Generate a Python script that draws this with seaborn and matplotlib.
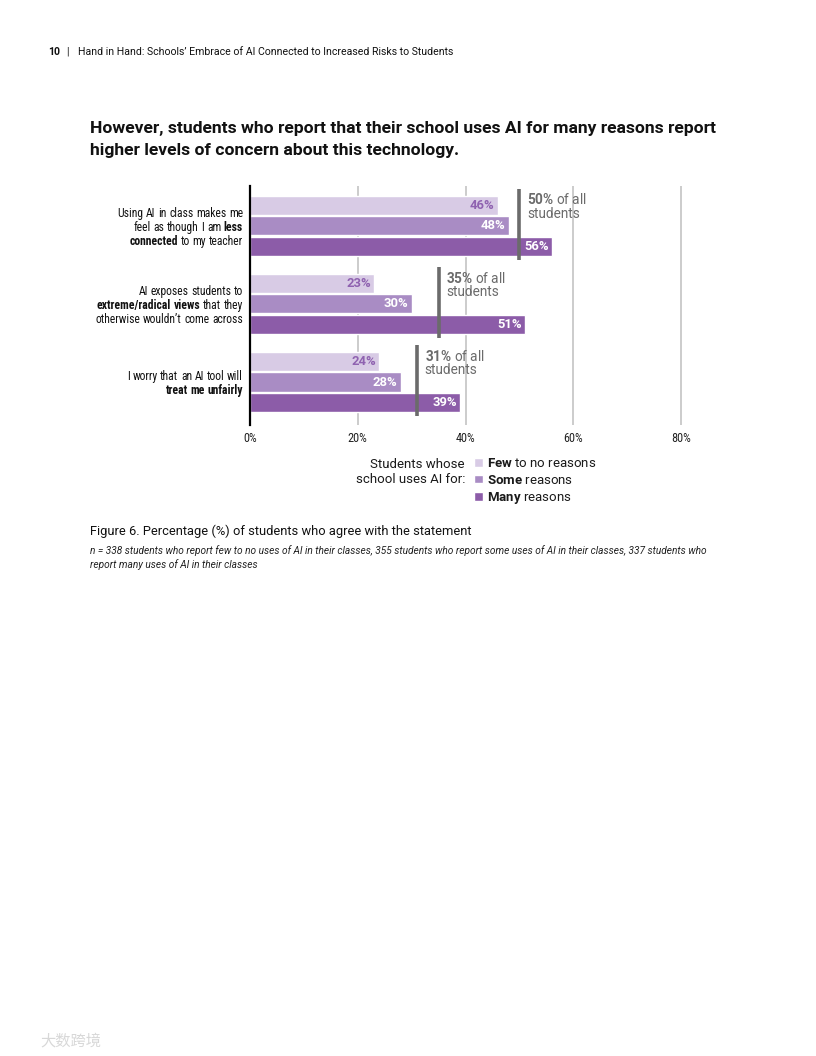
import numpy as np
import pandas as pd
import matplotlib.pyplot as plt
import seaborn as sns
from matplotlib import font_manager

# data
statements = ["connected", "radical", "unfair"]
groups = ["Few", "Some", "Many"]
few = [46, 23, 24]
some = [48, 30, 28]
many = [56, 51, 39]
all_students = [50, 35, 31]
xticks = [0, 20, 40, 60, 80]
xtick_labels = ["0%", "20%", "40%", "60%", "80%"]

label_lines = [
    ["Using AI in class makes me", "feel as though I am **less**", "**connected** to my teacher"],
    ["AI exposes students to", "**extreme/radical views** that they", "otherwise wouldn\u2019t come across"],
    ["I worry that an AI tool will", "**treat me unfairly**"],
]
legend_labels = [r"$\mathbf{Few}$ to no reasons", r"$\mathbf{Some}$ reasons", r"$\mathbf{Many}$ reasons"]

colors = ["#d8cbe5", "#a98cc4", "#8c5ca8"]
grey = "#6b6b6b"

df = pd.DataFrame({
    "statement": statements * 3,
    "group": [g for g in groups for _ in statements],
    "pct": few + some + many,
})


def weight_num(w):
    try:
        return int(w)
    except (TypeError, ValueError):
        return 700 if "bold" in str(w) else 400


# pick a condensed family that also has a static bold face
fl = font_manager.fontManager.ttflist
narrow = "Roboto"
for cand in ["Roboto Condensed", "Pragati Narrow", "Archivo Narrow", "Liberation Sans Narrow",
             "Arimo Narrow", "PT Sans Narrow", "Encode Sans Condensed", "Barlow Semi Condensed"]:
    faces = [f for f in fl if f.name == cand]
    if any(weight_num(f.weight) >= 600 for f in faces) and any(380 <= weight_num(f.weight) <= 450 for f in faces):
        narrow = cand
        break

sns.set_theme(style="white")
plt.rcParams["font.family"] = ["Roboto", "DejaVu Sans"]
plt.rcParams["mathtext.fontset"] = "custom"
plt.rcParams["mathtext.bf"] = "Roboto:bold"
plt.rcParams["mathtext.rm"] = "Roboto"

W, H = 816, 1056
fig = plt.figure(figsize=(W / 100, H / 100), dpi=100)
ax = fig.add_axes([250 / W, 1 - 425 / H, (80.5 * 107.75 / 20) / W, 239 / H])
renderer = fig.canvas.get_renderer()


def text_width(s, weight, size, family):
    t = fig.text(0, 0, s, fontweight=weight, fontsize=size, family=family)
    w = t.get_window_extent(renderer).width
    t.remove()
    return w


# size the label font so the first line matches the reference width
lab_size = 10 * 125 / text_width("Using AI in class makes me", "normal", 10, narrow)
lab_size = float(np.clip(lab_size, 7, 10))
lab_font = dict(family=narrow, fontsize=lab_size, color="#111111")

sns.barplot(data=df, x="pct", y="statement", hue="group", order=statements,
            hue_order=groups, palette=colors, width=0.78, gap=0.06,
            saturation=1, errorbar=None, orient="h", ax=ax)
handles, _ = ax.get_legend_handles_labels()
ax.get_legend().remove()

ax.set_xlim(0, 80.5)
ax.set_ylim(2.55, -0.51)
ax.set_xticks(xticks)
ax.set_xticklabels(xtick_labels, family=narrow, fontsize=lab_size * 1.05, color="#222222")
ax.tick_params(axis="x", length=0, pad=5)
ax.set_yticks([])
ax.set_xlabel("")
ax.set_ylabel("")
ax.xaxis.grid(True, color="#c8c8c8", lw=1.3)
ax.set_axisbelow(True)
for s in ["top", "right", "bottom"]:
    ax.spines[s].set_visible(False)
ax.spines["left"].set_color("black")
ax.spines["left"].set_linewidth(1.6)

# value labels inside the bar ends
for k, cont in enumerate(ax.containers):
    for bar in cont:
        w = bar.get_width()
        yc = bar.get_y() + bar.get_height() / 2
        ax.text(w - 0.6, yc, f"{w:.0f}%", ha="right", va="center",
                fontsize=9.4, fontweight="bold",
                color="#8f62b0" if k == 0 else "white")

# all-students reference lines
idx = np.arange(len(statements))
ax.vlines(all_students, idx - 0.47, idx + 0.44, color=grey, lw=2.6, zorder=5)
for i, v in enumerate(all_students):
    ax.text(v + 1.4, i - 0.245, rf"$\mathbf{{{v}\%}}$ of all" + "\nstudents",
            ha="left", va="center", fontsize=9.8, color=grey, linespacing=0.95)

# rich y labels (mixed bold), right aligned
space = text_width("a a", "normal", lab_size, narrow) - text_width("aa", "normal", lab_size, narrow)


def rich_line(x_px, y_px, line):
    words = []
    for j, piece in enumerate(line.split("**")):
        for word in piece.split():
            words.append((word, "bold" if j % 2 else "normal"))
    widths = [text_width(wd, wt, lab_size, narrow) for wd, wt in words]
    x = x_px - sum(widths) - space * (len(words) - 1)
    for (wd, wt), wdt in zip(words, widths):
        fig.text(x / W, y_px / H, wd, fontweight=wt, ha="left", va="center", **lab_font)
        x += wdt + space


for i, lines in enumerate(label_lines):
    yc = ax.transData.transform((0, i))[1] - 1.5
    n = len(lines)
    for j, line in enumerate(lines):
        rich_line(243, yc + (n - 1) * 7 - j * 14, line)

# legend
fig.text(465 / W, 1 - 472 / H, "Students whose\nschool uses AI for:", ha="right", va="center",
         fontsize=9.5, color="#1a1a1a", linespacing=1.25)
fig.legend(handles, legend_labels, loc="upper left", bbox_to_anchor=(474 / W, 1 - 457 / H),
           bbox_transform=fig.transFigure, frameon=False, fontsize=9.5, borderpad=0,
           borderaxespad=0, handlelength=0.65, handleheight=0.65, handletextpad=0.35,
           labelspacing=0.28, labelcolor="#1a1a1a")

# page text
fig.text(48 / W, 1 - 52 / H, "10", fontsize=7.6, fontweight="bold", va="center", color="#111111")
fig.text(66 / W, 1 - 52 / H, "|", fontsize=7.6, va="center", color="#111111")
fig.text(78 / W, 1 - 52 / H, "Hand in Hand: Schools\u2019 Embrace of AI Connected to Increased Risks to Students",
         fontsize=7.6, va="center", color="#111111")
fig.text(90 / W, 1 - 139.5 / H,
         "However, students who report that their school uses AI for many reasons report\n"
         "higher levels of concern about this technology.",
         fontsize=12.6, fontweight="bold", va="center", color="#111111", linespacing=1.55)
fig.text(90 / W, 1 - 531 / H, "Figure 6. Percentage (%) of students who agree with the statement",
         fontsize=9.3, va="center", color="#111111")
fig.text(90 / W, 1 - 557.5 / H,
         "n = 338 students who report few to no uses of AI in their classes, 355 students who report some uses of AI in their classes, 337 students who\n"
         "report many uses of AI in their classes",
         fontsize=7.25, style="italic", va="center", color="#222222", linespacing=1.25)
fig.text(40 / W, 1 - 1041 / H, "\u5927\u6570\u8de8\u5883", fontsize=11,
         family=["Noto Sans CJK SC", "DejaVu Sans"], color="#d8d8d8", va="center")

fig.savefig("out.png", dpi=100)
